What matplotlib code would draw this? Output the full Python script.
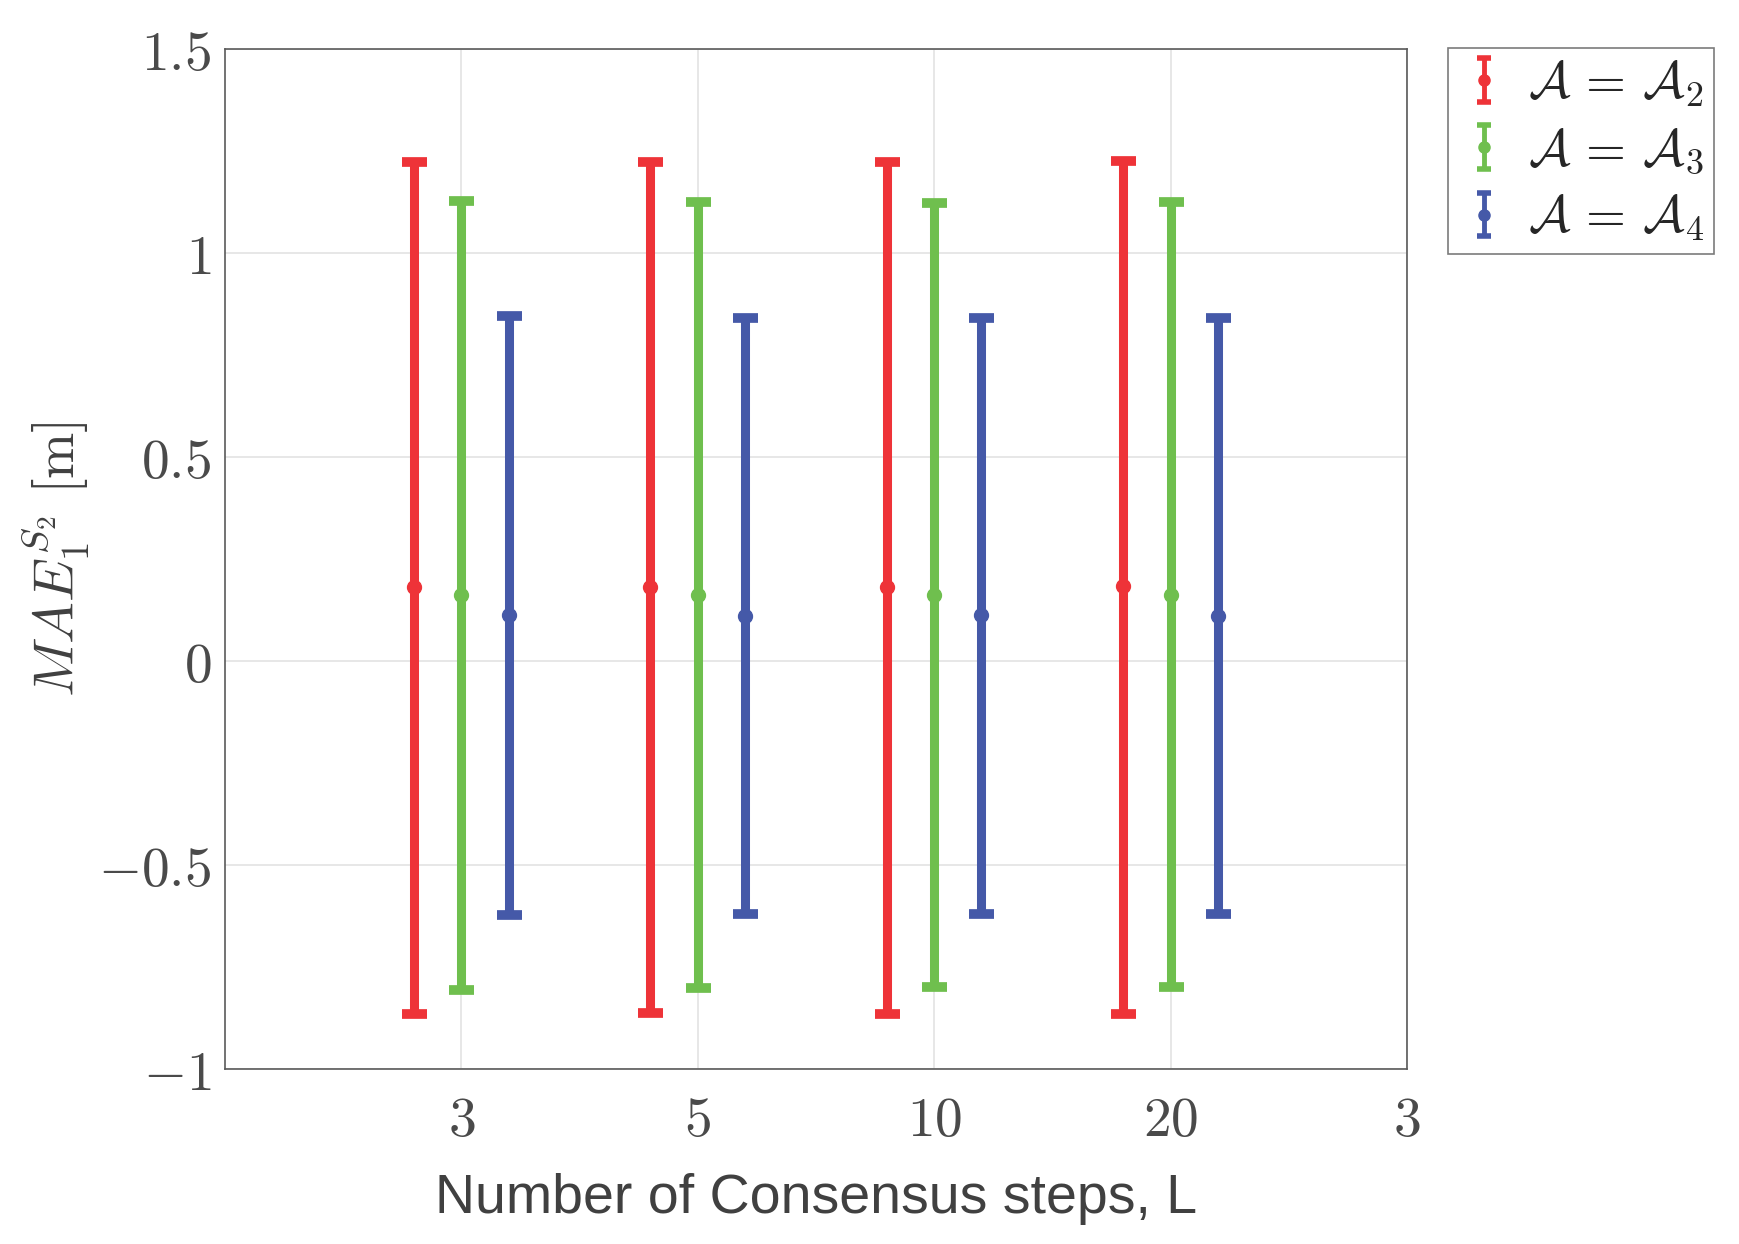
import matplotlib
matplotlib.use('Agg')
import matplotlib.pyplot as plt
import numpy as np
from matplotlib.container import ErrorbarContainer
from matplotlib.legend_handler import HandlerErrorbar

plt.rcParams['mathtext.fontset'] = 'cm'

# ---- data ----
group_pos = [1, 2, 3, 4]
xtick_pos = [1, 2, 3, 4, 5]
xtick_labels = [r'$3$', r'$5$', r'$10$', r'$20$', r'$3$']
ytick_vals = [-1, -0.5, 0, 0.5, 1, 1.5]
ytick_labels = [r'$-1$', r'$-0.5$', r'$0$', r'$0.5$', r'$1$', r'$1.5$']

a2_mean = [0.182, 0.182, 0.182, 0.184]
a2_low = [-0.865, -0.863, -0.865, -0.865]
a2_high = [1.224, 1.222, 1.224, 1.226]

a3_mean = [0.162, 0.162, 0.162, 0.162]
a3_low = [-0.807, -0.802, -0.799, -0.799]
a3_high = [1.127, 1.125, 1.123, 1.124]

a4_mean = [0.113, 0.110, 0.113, 0.111]
a4_low = [-0.622, -0.620, -0.620, -0.620]
a4_high = [0.846, 0.840, 0.840, 0.840]

labels = [r'$\mathcal{A}\,=\,\mathcal{A}_2$', r'$\mathcal{A}\,=\,\mathcal{A}_3$', r'$\mathcal{A}\,=\,\mathcal{A}_4$']
colors = ['#EE3338', '#6FBF4E', '#4559A8']
offsets = [-0.2, 0.0, 0.2]

series = [(a2_mean, a2_low, a2_high), (a3_mean, a3_low, a3_high), (a4_mean, a4_low, a4_high)]

fig = plt.figure(figsize=(17.4, 12.44), dpi=100)
ax = fig.add_axes([0.1293, 0.1407, 0.6793, 0.8199])

handles = []
for (m, lo, hi), c, off, lab in zip(series, colors, offsets, labels):
    m = np.array(m); lo = np.array(lo); hi = np.array(hi)
    x = np.array(group_pos) + off
    ax.errorbar(x, m, yerr=[m - lo, hi - m], fmt='o', color=c, ms=10,
                elinewidth=6.5, capsize=9, capthick=7, zorder=3)
    h = ax.errorbar([np.nan], [np.nan], yerr=[[0.1], [0.1]], fmt='o', color=c, ms=8,
                    elinewidth=3.5, capsize=5, capthick=4)
    handles.append(h)

ax.set_xlim(0, 5)
ax.set_ylim(-1, 1.5)
ax.set_xticks(xtick_pos)
ax.set_xticklabels(xtick_labels)
ax.set_yticks(ytick_vals)
ax.set_yticklabels(ytick_labels)
ax.tick_params(axis='both', length=0, labelsize=40, labelcolor='#4a4a4a')
ax.tick_params(axis='x', pad=18)
ax.tick_params(axis='y', pad=10)
ax.grid(True, color='#e3e3e3', linewidth=1.2, zorder=0)
ax.set_axisbelow(True)
for s in ax.spines.values():
    s.set_color('#5a5a5a')
    s.set_linewidth(1.2)

ax.set_xlabel('Number of Consensus steps, L', fontsize=40, family='Liberation Sans',
              color='#404040', labelpad=18)
ax.set_ylabel(r'$MAE_1^{S_2}\ [\mathrm{m}]$', fontsize=40, color='#404040', labelpad=4)

leg = fig.legend(handles, labels, loc='upper left', bbox_to_anchor=(1448/1740, 1 - 48/1244),
                 fontsize=37, frameon=True, fancybox=False, edgecolor='#5a5a5a',
                 labelspacing=0.33, handlelength=1.0, handletextpad=0.35, borderpad=0.2,
                 borderaxespad=0,
                 handler_map={ErrorbarContainer: HandlerErrorbar(xerr_size=0.4, yerr_size=0.42)})
leg.get_frame().set_linewidth(1.2)
for t in leg.get_texts():
    t.set_color('#262626')

fig.savefig('out.png', dpi=100)
